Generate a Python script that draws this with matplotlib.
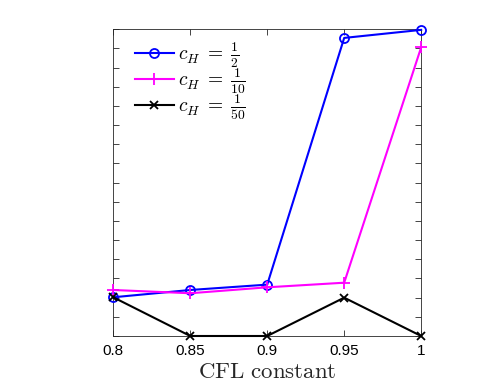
import matplotlib
matplotlib.use("Agg")
import matplotlib.pyplot as plt

plt.rcParams["mathtext.fontset"] = "cm"
plt.rcParams["font.family"] = ["Liberation Sans", "DejaVu Sans"]

cfl = [0.8, 0.85, 0.9, 0.95, 1.0]
half = [2.02, 2.4, 2.68, 15.55, 15.97]
tenth = [2.4, 2.23, 2.54, 2.78, 15.06]
fiftieth = [2.02, 0.0, 0.0, 2.0, 0.0]
labels = [r"$c_H\;=\;\frac{1}{2}$", r"$c_H\;=\;\frac{1}{10}$", r"$c_H\;=\;\frac{1}{50}$"]

fig = plt.figure(figsize=(4.99, 3.87), dpi=100)
ax = fig.add_axes([0.227, 0.1318, 0.617, 0.7925])

ax.plot(cfl, half, color="blue", marker="o", mfc="none", ms=6.5, mew=1.3, lw=1.5,
        label=labels[0], clip_on=False, zorder=3)
ax.plot(cfl, tenth, color="magenta", marker="+", ms=9, mew=1.3, lw=1.5,
        label=labels[1], clip_on=False, zorder=3)
ax.plot(cfl, fiftieth, color="black", marker="x", ms=6, mew=1.3, lw=1.5,
        label=labels[2], clip_on=False, zorder=3)

ax.set_xlim(0.8, 1.0)
ax.set_ylim(0, 16)
ax.set_xticks(cfl)
ax.set_xticklabels(["0.8", "0.85", "0.9", "0.95", "1"])
ax.set_yticks(range(0, 17))
ax.set_yticklabels([])
ax.tick_params(direction="in", top=True, right=True, length=4, width=0.6,
               color="#262626", labelsize=11, pad=6)
for s in ax.spines.values():
    s.set_color("#262626")
    s.set_linewidth(0.6)

ax.set_xlabel(r"$\mathrm{CFL\ constant}$", fontsize=16.5, color="#262626", labelpad=1)

ax.legend(loc="upper left", frameon=False, fontsize=14, handlelength=2.0,
          handletextpad=0.2, labelspacing=-0.19, borderaxespad=0.0,
          bbox_to_anchor=(0.045, 0.99))

fig.savefig("out.png", dpi=100)
